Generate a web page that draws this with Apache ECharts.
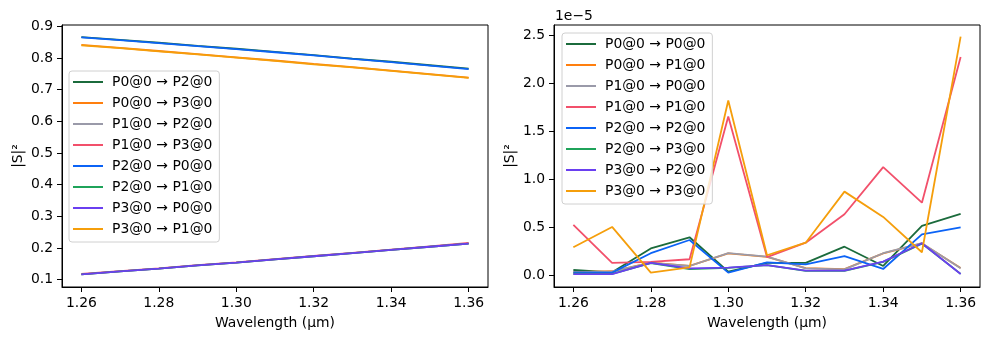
<!DOCTYPE html>
<html>
<head>
<meta charset="utf-8">
<script src="https://cdn.jsdelivr.net/npm/echarts@6/dist/echarts.min.js"></script>
<style>
  html, body { margin: 0; padding: 0; background: #fff; }
  #chart { width: 989px; height: 340px; }
</style>
</head>
<body>
<div id="chart"></div>
<script>
// Wavelength samples (µm)
const wavelengths = [1.26, 1.27, 1.28, 1.29, 1.30, 1.31, 1.32, 1.33, 1.34, 1.35, 1.36];

// Transmission |S|² between ports (left panel)
const transNames = [
  'P0@0 → P2@0', 'P0@0 → P3@0', 'P1@0 → P2@0', 'P1@0 → P3@0',
  'P2@0 → P0@0', 'P2@0 → P1@0', 'P3@0 → P0@0', 'P3@0 → P1@0'
];
const t_P0_P2 = [0.866, 0.857, 0.848, 0.838, 0.829, 0.819, 0.809, 0.798, 0.788, 0.777, 0.766];
const t_P0_P3 = [0.841, 0.832, 0.822, 0.812, 0.802, 0.792, 0.781, 0.771, 0.760, 0.749, 0.738];
const t_P1_P2 = [0.117, 0.126, 0.135, 0.145, 0.154, 0.164, 0.174, 0.184, 0.194, 0.204, 0.214];
const t_P1_P3 = [0.118, 0.127, 0.136, 0.146, 0.155, 0.165, 0.175, 0.185, 0.195, 0.205, 0.216];
const t_P2_P0 = [0.865, 0.856, 0.847, 0.837, 0.828, 0.818, 0.808, 0.797, 0.787, 0.776, 0.765];
const t_P2_P1 = [0.117, 0.126, 0.135, 0.145, 0.154, 0.164, 0.174, 0.184, 0.194, 0.204, 0.214];
const t_P3_P0 = [0.117, 0.126, 0.135, 0.145, 0.154, 0.164, 0.174, 0.184, 0.194, 0.204, 0.214];
const t_P3_P1 = [0.840, 0.831, 0.821, 0.811, 0.801, 0.791, 0.780, 0.770, 0.759, 0.748, 0.737];
const transValues = [t_P0_P2, t_P0_P3, t_P1_P2, t_P1_P3, t_P2_P0, t_P2_P1, t_P3_P0, t_P3_P1];

// Reflection / crosstalk |S|² (right panel), in units of 1e-5
const reflNames = [
  'P0@0 → P0@0', 'P0@0 → P1@0', 'P1@0 → P0@0', 'P1@0 → P1@0',
  'P2@0 → P2@0', 'P2@0 → P3@0', 'P3@0 → P2@0', 'P3@0 → P3@0'
];
const r_P0_P0 = [0.055, 0.031, 0.280, 0.396, 0.038, 0.130, 0.130, 0.298, 0.097, 0.514, 0.640];
const r_P0_P1 = [0.032, 0.042, 0.132, 0.099, 0.228, 0.193, 0.075, 0.064, 0.228, 0.332, 0.075];
const r_P1_P0 = [0.030, 0.040, 0.130, 0.097, 0.230, 0.195, 0.073, 0.062, 0.230, 0.334, 0.073];
const r_P1_P1 = [0.525, 0.130, 0.140, 0.167, 1.655, 0.190, 0.340, 0.636, 1.127, 0.757, 2.274];
const r_P2_P2 = [0.031, 0.028, 0.230, 0.368, 0.028, 0.135, 0.114, 0.200, 0.066, 0.427, 0.500];
const r_P2_P3 = [0.016, 0.015, 0.128, 0.065, 0.078, 0.105, 0.046, 0.046, 0.140, 0.330, 0.015];
const r_P3_P2 = [0.013, 0.013, 0.130, 0.073, 0.080, 0.107, 0.048, 0.048, 0.142, 0.334, 0.013];
const r_P3_P3 = [0.292, 0.504, 0.027, 0.083, 1.822, 0.209, 0.340, 0.872, 0.608, 0.240, 2.488];
const reflValues = [r_P0_P0, r_P0_P1, r_P1_P0, r_P1_P1, r_P2_P2, r_P2_P3, r_P3_P2, r_P3_P3];

// Tick labels
const xTicks = [1.26, 1.28, 1.30, 1.32, 1.34, 1.36];
const yTicksLeft = [0.1, 0.2, 0.3, 0.4, 0.5, 0.6, 0.7, 0.8, 0.9];
const yTicksRight = [0.0, 0.5, 1.0, 1.5, 2.0, 2.5];

const palette = ['#1b6b3c', '#ff7f0e', '#9a9aa9', '#f2506b', '#0b63f6', '#1fa35a', '#6a3ff0', '#f59e0b'];

const FONT = 'DejaVu Sans';
const textBase = { fontFamily: FONT, fontSize: 13.9, color: '#000' };

function xAxisFor(gridIndex) {
  return {
    type: 'value', gridIndex, min: 1.255, max: 1.365,
    name: 'Wavelength (µm)', nameLocation: 'middle', nameGap: 29,
    nameTextStyle: textBase,
    axisLine: { show: true, onZero: false, lineStyle: { color: '#000', width: 1 } },
    axisTick: { show: true, length: 5, customValues: xTicks, lineStyle: { color: '#000' } },
    axisLabel: { ...textBase, margin: 9, customValues: xTicks, formatter: v => v.toFixed(2) },
    splitLine: { show: false }
  };
}
function yAxisFor(gridIndex, min, max, ticks, digits) {
  return {
    type: 'value', gridIndex, min, max,
    name: '|S|²', nameLocation: 'middle', nameGap: 37, nameRotate: 90,
    nameTextStyle: textBase,
    axisLine: { show: true, onZero: false, lineStyle: { color: '#000', width: 1 } },
    axisTick: { show: true, length: 5, customValues: ticks, lineStyle: { color: '#000' } },
    axisLabel: { ...textBase, margin: 9, customValues: ticks, formatter: v => v.toFixed(digits) },
    splitLine: { show: false }
  };
}
function legendFor(names, left, top) {
  return {
    data: names, orient: 'vertical', left, top,
    icon: 'rect', itemWidth: 30, itemHeight: 2, itemGap: 7,
    padding: [4, 7, 6, 4],
    backgroundColor: 'rgba(255,255,255,0.8)',
    borderColor: '#d0d0d0', borderWidth: 1, borderRadius: 3,
    textStyle: { ...textBase, lineHeight: 14, padding: [0, 0, 0, 4] },
    selectedMode: false
  };
}

const series = [];
transNames.forEach((name, i) => {
  series.push({
    name, type: 'line', xAxisIndex: 0, yAxisIndex: 0,
    data: wavelengths.map((w, k) => [w, transValues[i][k]]),
    showSymbol: false, symbol: 'none', lineStyle: { width: 1.8, color: palette[i] },
    itemStyle: { color: palette[i] }, animation: false
  });
});
reflNames.forEach((name, i) => {
  series.push({
    name, type: 'line', xAxisIndex: 1, yAxisIndex: 1,
    data: wavelengths.map((w, k) => [w, reflValues[i][k]]),
    showSymbol: false, symbol: 'none', lineStyle: { width: 1.8, color: palette[i] },
    itemStyle: { color: palette[i] }, animation: false
  });
});

const chart = echarts.init(document.getElementById('chart'), null, { renderer: 'canvas' });
chart.setOption({
  backgroundColor: '#fff',
  animation: false,
  grid: [
    { left: 62, top: 25, width: 426, height: 262, show: true, borderColor: '#000', borderWidth: 1, backgroundColor: 'transparent' },
    { left: 554, top: 25, width: 426, height: 262, show: true, borderColor: '#000', borderWidth: 1, backgroundColor: 'transparent' }
  ],
  xAxis: [xAxisFor(0), xAxisFor(1)],
  yAxis: [yAxisFor(0, 0.077, 0.904, yTicksLeft, 1), yAxisFor(1, -0.122, 2.6085, yTicksRight, 1)],
  legend: [legendFor(transNames, 69, 71), legendFor(reflNames, 562, 33)],
  graphic: [{
    type: 'text', left: 555, top: 9,
    style: { text: '1e−5', fontFamily: FONT, fontSize: 13.9, fill: '#000' }
  }],
  series
});
</script>
</body>
</html>
